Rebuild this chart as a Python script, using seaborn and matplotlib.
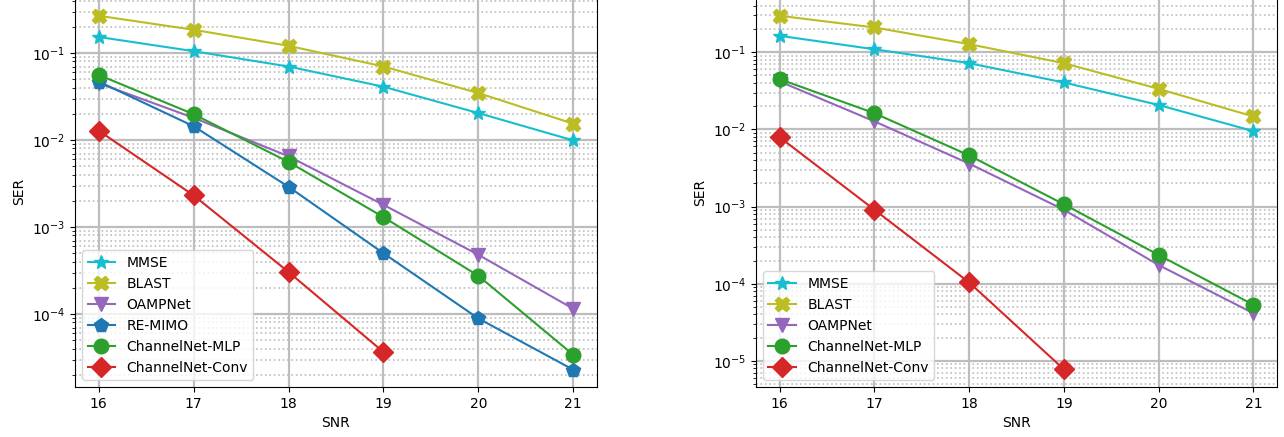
import matplotlib
matplotlib.use("Agg")
import matplotlib.pyplot as plt
import seaborn as sns

# SNR points
snr = [16, 17, 18, 19, 20, 21]
snr_conv = [16, 17, 18, 19]

# left panel
mmse_a = [0.153, 0.105, 0.070, 0.041, 0.0204, 0.0099]
blast_a = [0.268, 0.185, 0.121, 0.070, 0.0347, 0.0154]
oamp_a = [0.045, 0.018, 0.0065, 0.0018, 0.00048, 0.000115]
remimo_a = [0.047, 0.0144, 0.0029, 0.0005, 0.000089, 0.0000229]
mlp_a = [0.056, 0.0198, 0.0056, 0.0013, 0.000275, 0.000034]
conv_a = [0.0128, 0.00231, 0.000304, 0.0000366]

# right panel
mmse_b = [0.163, 0.109, 0.072, 0.0405, 0.0207, 0.0095]
blast_b = [0.296, 0.209, 0.127, 0.072, 0.0335, 0.0147]
oamp_b = [0.0417, 0.0127, 0.0036, 0.00091, 0.000175, 0.0000415]
mlp_b = [0.0447, 0.0162, 0.0046, 0.00107, 0.000236, 0.0000535]
conv_b = [0.0079, 0.00091, 0.000104, 0.0000078]

style = {
    "MMSE": ("*", "tab:cyan"),
    "BLAST": ("X", "tab:olive"),
    "OAMPNet": ("v", "tab:purple"),
    "RE-MIMO": ("p", "tab:blue"),
    "ChannelNet-MLP": ("o", "tab:green"),
    "ChannelNet-Conv": ("D", "tab:red"),
}

left = [("MMSE", snr, mmse_a), ("BLAST", snr, blast_a), ("OAMPNet", snr, oamp_a),
        ("RE-MIMO", snr, remimo_a), ("ChannelNet-MLP", snr, mlp_a),
        ("ChannelNet-Conv", snr_conv, conv_a)]
right = [("MMSE", snr, mmse_b), ("BLAST", snr, blast_b), ("OAMPNet", snr, oamp_b),
         ("ChannelNet-MLP", snr, mlp_b), ("ChannelNet-Conv", snr_conv, conv_b)]

# the reference is cropped at the top, so the top spine sits just above the picture
fig = plt.figure(figsize=(12.84, 4.37), dpi=100)
ax1 = fig.add_axes([75 / 1284, 50 / 437, 522 / 1284, 390.8 / 437])
ax2 = fig.add_axes([756 / 1284, 50 / 437, 521 / 1284, 390.1 / 437])


def draw(ax, series, ylim):
    for name, x, y in series:
        m, c = style[name]
        sns.lineplot(x=x, y=y, ax=ax, marker=m, color=c, label=name,
                     markersize=10.5, markeredgecolor=c, markeredgewidth=1,
                     linewidth=1.5)
    ax.set_yscale("log")
    ax.set_ylim(*ylim)
    ax.set_xlim(15.75, 21.25)
    ax.set_xticks(snr)
    ax.grid(True, which="major", color="#bdbdbd", linewidth=1.6)
    ax.grid(True, which="minor", color="#bdbdbd", linestyle=":", linewidth=1.2)
    ax.set_axisbelow(True)
    ax.set_xlabel("SNR")
    ax.set_ylabel("SER")
    ax.legend(loc="lower left")


draw(ax1, left, (1.45e-5, 0.45))
draw(ax2, right, (4.6e-6, 0.52))

fig.savefig("out.png", dpi=100)
